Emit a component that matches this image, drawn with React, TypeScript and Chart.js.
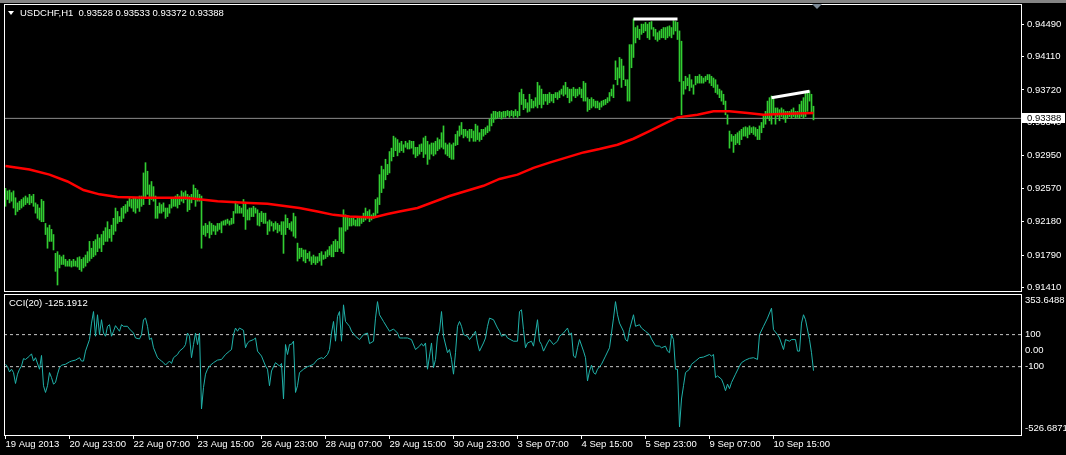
import React, { useEffect, useRef } from 'react';
import { Chart, registerables } from 'chart.js';

Chart.register(...registerables);

// ---------- DATA ----------
const symbolTitle = 'USDCHF,H1';
const lastBarOHLC = [0.93528, 0.93533, 0.93372, 0.93388];
const lastPrice = 0.93388;
const cciTitle = 'CCI(20)';
const cciLast = -125.1912;

// H1 bar highs / lows, in units of 0.0001 (pips)
const barHigh = [
  9257, 9254, 9255, 9252, 9254, 9246, 9240, 9242, 9244, 9246,
  9248, 9246, 9250, 9248, 9250, 9240, 9238, 9234, 9244, 9242,
  9216, 9211, 9214, 9209, 9203, 9181, 9183, 9179, 9177, 9179,
  9174, 9172, 9174, 9172, 9174, 9172, 9176, 9177, 9174, 9176,
  9179, 9183, 9195, 9187, 9195, 9197, 9203, 9199, 9203, 9207,
  9211, 9218, 9209, 9214, 9222, 9234, 9230, 9224, 9234, 9236,
  9238, 9242, 9246, 9244, 9246, 9246, 9244, 9248, 9248, 9275,
  9287, 9277, 9261, 9265, 9259, 9248, 9236, 9240, 9238, 9240,
  9234, 9234, 9238, 9246, 9246, 9248, 9250, 9248, 9254, 9252,
  9254, 9250, 9248, 9250, 9261, 9257, 9255, 9250, 9248, 9213,
  9216, 9214, 9218, 9216, 9214, 9213, 9216, 9216, 9218, 9219,
  9220, 9221, 9219, 9222, 9230, 9242, 9238, 9236, 9234, 9244,
  9240, 9232, 9234, 9234, 9236, 9234, 9232, 9228, 9230, 9228,
  9228, 9218, 9220, 9218, 9216, 9218, 9216, 9214, 9218, 9218,
  9226, 9222, 9216, 9218, 9228, 9224, 9193, 9187, 9187, 9185,
  9185, 9181, 9183, 9177, 9179, 9177, 9177, 9181, 9183, 9179,
  9183, 9185, 9189, 9191, 9195, 9197, 9195, 9211, 9211, 9232,
  9226, 9224, 9222, 9222, 9222, 9220, 9222, 9224, 9224, 9228,
  9234, 9230, 9232, 9226, 9228, 9244, 9246, 9273, 9283, 9279,
  9291, 9285, 9300, 9304, 9318, 9316, 9314, 9310, 9312, 9308,
  9312, 9310, 9313, 9312, 9312, 9305, 9305, 9308, 9309, 9316,
  9318, 9312, 9308, 9310, 9310, 9312, 9316, 9314, 9322, 9330,
  9310, 9308, 9310, 9308, 9310, 9320, 9324, 9330, 9334, 9326,
  9326, 9324, 9326, 9326, 9324, 9332, 9330, 9322, 9326, 9326,
  9328, 9330, 9338, 9344, 9347, 9347, 9346, 9347, 9346, 9347,
  9347, 9348, 9347, 9348, 9347, 9349, 9347, 9369, 9373, 9367,
  9361, 9357, 9367, 9361, 9359, 9363, 9381, 9377, 9373, 9367,
  9367, 9367, 9369, 9367, 9367, 9369, 9369, 9371, 9373, 9377,
  9381, 9375, 9373, 9373, 9375, 9373, 9373, 9375, 9373, 9382,
  9380, 9363, 9361, 9363, 9361, 9359, 9359, 9357, 9359, 9360,
  9361, 9363, 9369, 9373, 9378, 9406, 9398, 9410, 9408, 9400,
  9384, 9384, 9425, 9425, 9455, 9445, 9447, 9443, 9449, 9449,
  9451, 9449, 9451, 9452, 9445, 9443, 9439, 9441, 9443, 9445,
  9445, 9446, 9447, 9445, 9453, 9452, 9451, 9441, 9429, 9382,
  9388, 9386, 9390, 9384, 9378, 9388, 9388, 9390, 9388, 9386,
  9388, 9390, 9390, 9388, 9386, 9384, 9378, 9373, 9371, 9367,
  9359, 9343, 9324, 9320, 9318, 9320, 9322, 9324, 9326, 9328,
  9329, 9328, 9330, 9328, 9329, 9328, 9326, 9330, 9334, 9343,
  9347, 9359, 9363, 9365, 9363, 9351, 9351, 9349, 9351, 9349,
  9347, 9347, 9347, 9349, 9351, 9347, 9347, 9355, 9359, 9363,
  9369, 9371, 9371, 9367, 9353,
];
const barLow = [
  9236, 9244, 9240, 9242, 9234, 9226, 9230, 9232, 9234, 9236,
  9238, 9240, 9238, 9240, 9236, 9228, 9222, 9220, 9218, 9218,
  9203, 9187, 9195, 9195, 9185, 9160, 9144, 9164, 9168, 9168,
  9166, 9166, 9166, 9165, 9166, 9166, 9165, 9162, 9160, 9164,
  9166, 9170, 9172, 9175, 9177, 9179, 9183, 9187, 9183, 9191,
  9195, 9195, 9199, 9195, 9203, 9207, 9216, 9218, 9218, 9222,
  9228, 9230, 9236, 9234, 9230, 9228, 9234, 9230, 9236, 9238,
  9246, 9250, 9238, 9244, 9242, 9222, 9222, 9228, 9228, 9230,
  9222, 9224, 9228, 9234, 9236, 9236, 9234, 9238, 9242, 9240,
  9244, 9230, 9232, 9240, 9244, 9236, 9242, 9242, 9187, 9203,
  9201, 9205, 9199, 9203, 9207, 9203, 9207, 9209, 9205, 9214,
  9214, 9216, 9214, 9215, 9216, 9228, 9228, 9228, 9228, 9224,
  9209, 9220, 9220, 9224, 9224, 9228, 9214, 9213, 9218, 9216,
  9216, 9203, 9207, 9213, 9207, 9209, 9205, 9207, 9203, 9181,
  9203, 9211, 9209, 9207, 9201, 9199, 9172, 9175, 9177, 9172,
  9170, 9175, 9172, 9168, 9170, 9168, 9170, 9172, 9167, 9174,
  9175, 9177, 9179, 9177, 9177, 9183, 9183, 9187, 9183, 9181,
  9207, 9209, 9213, 9213, 9214, 9213, 9213, 9213, 9216, 9218,
  9220, 9222, 9218, 9220, 9222, 9224, 9228, 9238, 9252, 9257,
  9267, 9273, 9275, 9289, 9294, 9301, 9295, 9299, 9301, 9299,
  9305, 9303, 9303, 9304, 9297, 9293, 9295, 9297, 9300, 9293,
  9297, 9285, 9291, 9297, 9295, 9297, 9301, 9303, 9305, 9303,
  9297, 9295, 9293, 9291, 9291, 9307, 9308, 9318, 9320, 9316,
  9318, 9316, 9312, 9316, 9312, 9312, 9314, 9312, 9314, 9318,
  9320, 9322, 9324, 9330, 9334, 9338, 9339, 9340, 9338, 9340,
  9340, 9342, 9340, 9342, 9340, 9342, 9340, 9342, 9355, 9349,
  9351, 9346, 9347, 9351, 9351, 9353, 9351, 9355, 9351, 9355,
  9359, 9355, 9357, 9359, 9357, 9363, 9361, 9363, 9367, 9365,
  9367, 9363, 9357, 9359, 9365, 9363, 9365, 9367, 9363, 9359,
  9359, 9347, 9349, 9351, 9353, 9351, 9351, 9349, 9352, 9354,
  9355, 9357, 9359, 9365, 9363, 9384, 9378, 9386, 9375, 9384,
  9377, 9359, 9359, 9398, 9410, 9427, 9433, 9431, 9437, 9439,
  9441, 9433, 9431, 9443, 9435, 9431, 9429, 9431, 9433, 9433,
  9431, 9433, 9435, 9433, 9437, 9441, 9431, 9382, 9343, 9367,
  9373, 9377, 9371, 9375, 9367, 9378, 9380, 9380, 9380, 9380,
  9382, 9384, 9380, 9377, 9375, 9369, 9367, 9363, 9359, 9355,
  9343, 9332, 9304, 9312, 9299, 9308, 9310, 9308, 9314, 9318,
  9318, 9316, 9320, 9322, 9320, 9318, 9314, 9314, 9322, 9328,
  9332, 9339, 9336, 9332, 9343, 9332, 9341, 9336, 9341, 9338,
  9334, 9339, 9341, 9339, 9341, 9339, 9340, 9339, 9341, 9339,
  9341, 9347, 9359, 9345, 9337,
];

// Moving average (red line): bar index and value in pips
const maIndex = [0, 12, 22, 31, 39, 47, 56, 70, 90, 106, 122, 131, 147, 156, 164, 172, 184, 191, 197, 206, 222, 239, 247, 256, 264, 272, 289, 297, 306, 314, 322, 329, 336, 346, 354, 362, 371, 379, 387, 404];
const maValue = [9283, 9279, 9273, 9265, 9255, 9250, 9247, 9246, 9246, 9242, 9240, 9239, 9234, 9230, 9226, 9224, 9223, 9227, 9230, 9234, 9248, 9260, 9268, 9273, 9281, 9287, 9299, 9303, 9308, 9315, 9324, 9332, 9340, 9343, 9347, 9347, 9345, 9343, 9344, 9345];

// CCI(20): [bar index, value]
const cciPoints = [
  [0, -85], [1, -100], [2, -133], [3, -116], [4, -137], [5, -205], [6, -147], [7, -116], [8, -96], [9, -50],
  [10, -55], [12, -34], [13, -20], [14, -65], [15, -44], [17, -116], [18, -30], [19, -219], [20, -261], [21, -219],
  [22, -137], [23, -168], [24, -209], [25, -199], [26, -147], [27, -106], [28, -91], [30, -85], [32, -70], [33, -65],
  [35, -59], [37, -44], [38, -65], [39, -65], [40, -3], [42, 69], [43, 172], [44, 244], [45, 90], [46, 224],
  [47, 100], [48, 193], [49, 110], [50, 90], [51, 152], [52, 162], [53, 90], [54, 121], [55, 156], [57, 121],
  [58, 162], [59, 152], [61, 152], [62, 135], [64, 110], [65, 79], [67, 73], [68, 100], [69, 193], [70, 203],
  [71, 152], [72, 69], [73, 79], [74, 18], [76, -44], [77, -55], [78, -65], [79, -75], [80, -90], [82, -65],
  [83, -80], [84, -44], [86, -24], [87, -3], [89, 18], [90, 38], [91, 110], [92, 90], [93, -44], [94, 38],
  [95, 110], [96, 38], [97, 110], [98, -364], [99, -230], [100, -147], [101, -116], [102, -96], [104, -75], [106, -59],
  [108, -55], [110, -24], [112, -3], [113, 7], [114, 100], [115, 141], [116, 121], [117, 141], [119, 127], [120, 18],
  [121, 48], [122, 59], [124, 69], [125, 79], [126, -3], [128, -34], [130, -96], [131, -116], [132, -219], [133, -127],
  [135, -75], [137, -96], [138, -80], [139, -302], [140, 38], [141, -24], [142, 38], [143, 40], [144, 59], [145, -261],
  [146, -219], [147, -137], [149, -116], [151, -100], [152, -96], [154, -85], [156, -55], [158, -44], [159, -50], [161, -24],
  [162, 7], [163, 110], [164, 182], [165, 59], [166, 213], [167, 244], [168, 59], [169, 286], [170, 182], [172, 152],
  [173, 121], [175, 90], [177, 69], [179, 100], [181, 110], [182, 44], [184, 59], [185, 203], [186, 306], [187, 224],
  [189, 182], [191, 141], [192, 121], [194, 135], [196, 110], [197, 79], [199, 79], [201, 79], [203, 69], [205, 7],
  [207, 28], [208, 44], [209, 28], [210, 48], [211, -116], [212, -34], [213, 48], [214, -106], [215, -55], [216, 90],
  [217, 121], [218, 244], [219, 90], [221, -13], [222, 7], [223, -55], [224, -147], [225, -13], [226, 152], [227, 182],
  [228, 152], [229, 100], [231, 90], [232, 69], [234, 100], [235, 121], [236, 48], [237, -3], [239, 48], [240, 79],
  [241, 152], [242, 203], [244, 193], [246, 141], [247, 121], [248, 90], [250, 100], [251, 79], [254, 59], [256, 59],
  [257, 244], [258, 255], [259, 131], [260, 18], [261, 48], [263, 59], [264, 28], [265, 110], [266, 193], [267, 59],
  [268, 38], [269, -3], [271, 48], [272, 69], [274, 38], [276, 59], [277, 90], [279, 110], [281, 141], [282, 100],
  [283, 110], [284, -34], [285, -44], [286, 18], [287, 69], [289, -3], [290, -44], [291, -189], [292, -127], [293, -91],
  [294, -137], [295, -147], [296, -116], [298, -85], [300, -34], [302, 18], [303, 110], [304, 203], [305, 306], [306, 224],
  [307, 172], [309, 121], [310, 69], [311, 59], [312, 131], [314, 224], [315, 152], [317, 162], [318, 141], [320, 121],
  [322, 100], [323, 73], [325, 30], [327, 28], [328, 18], [330, 28], [331, -3], [332, -13], [333, 100], [334, 69],
  [335, -116], [336, -116], [337, -477], [338, -302], [339, -219], [340, -137], [342, -116], [343, -85], [345, -65], [347, -44],
  [349, -40], [352, -24], [353, -34], [354, -24], [355, -168], [356, -158], [358, -178], [359, -209], [360, -250], [361, -209],
  [362, -237], [363, -199], [365, -147], [367, -96], [368, -75], [370, -59], [372, -48], [374, -44], [376, -55], [377, 100],
  [379, 152], [381, 203], [383, 265], [384, 131], [386, 100], [387, 79], [389, 7], [390, 69], [392, 59], [393, 69],
  [395, 69], [396, -3], [397, -3], [398, 172], [399, 224], [400, 193], [402, 69], [403, -13], [404, -125.1912],
];

// White trend lines drawn on the price chart: [bar index, price]
const trendLines = [
  [[314, 0.9455], [336, 0.9455]],
  [[383, 0.9363], [402, 0.93705]],
];

const timeTickIndex = [0, 32, 64, 96, 128, 160, 192, 224, 256, 288, 320, 352, 384];
const timeTickLabels = [
  '19 Aug 2013', '20 Aug 23:00', '22 Aug 07:00', '23 Aug 15:00', '26 Aug 23:00', '28 Aug 07:00',
  '29 Aug 15:00', '30 Aug 23:00', '3 Sep 07:00', '4 Sep 15:00', '5 Sep 23:00', '9 Sep 07:00', '10 Sep 15:00',
];
const priceTicks = [0.9449, 0.9411, 0.9372, 0.9334, 0.9295, 0.9257, 0.9218, 0.9179, 0.9141];
const priceMin = 0.9137;
const priceMax = 0.94725;
const cciMax = 353.6488;
const cciMin = -526.6871;
const cciTicks = [cciMax, 100, 0, -100, cciMin];
const cciLevels = [100, -100];
const xMin = -0.75;
const xMax = 507.75;

// ---------- STYLE ----------
const FONT = 'Liberation Sans';
const FS = 9.5;
const BAR_COLOR = '#32cd32';
const CCI_COLOR = '#20b2aa';

const noPad = (s: any) => {
  s.paddingTop = 0;
  s.paddingBottom = 0;
  s.paddingLeft = 0;
  s.paddingRight = 0;
};

const framePlugin = {
  id: 'frame',
  afterDraw(chart: any) {
    const { ctx, chartArea: a } = chart;
    ctx.save();
    ctx.strokeStyle = '#ffffff';
    ctx.lineWidth = 1;
    ctx.strokeRect(Math.round(a.left) + 0.5, Math.round(a.top) + 0.5, Math.round(a.right - a.left), Math.round(a.bottom - a.top));
    ctx.restore();
  },
};

const priceBoxPlugin = {
  id: 'priceBox',
  afterDraw(chart: any) {
    const { ctx, chartArea: a } = chart;
    const y = Math.round(chart.scales.y.getPixelForValue(lastPrice));
    ctx.save();
    ctx.fillStyle = '#ffffff';
    ctx.fillRect(a.right + 1, y - 5, 43, 10);
    ctx.fillStyle = '#000000';
    ctx.font = `${FS}px "${FONT}"`;
    ctx.textBaseline = 'middle';
    ctx.fillText(lastPrice.toFixed(5), a.right + 6, y + 0.5);
    // chart-shift marker at the top
    ctx.fillStyle = '#7d8a97';
    ctx.beginPath();
    ctx.moveTo(812, 4);
    ctx.lineTo(822, 4);
    ctx.lineTo(817, 9);
    ctx.closePath();
    ctx.fill();
    ctx.restore();
  },
};

const cciLabel = (v: number): string | string[] => {
  if (v === cciMax) return ['', v.toFixed(4)];
  if (v === cciMin) return [v.toFixed(4), ''];
  if (v === 0) return '0.00';
  return String(v);
};

export default function App() {
  const priceRef = useRef<HTMLCanvasElement>(null);
  const cciRef = useRef<HTMLCanvasElement>(null);

  useEffect(() => {
    const font = { family: FONT, size: FS };
    const c1 = new Chart(priceRef.current as HTMLCanvasElement, {
      type: 'bar',
      data: {
        datasets: [
          {
            type: 'line',
            data: [{ x: xMin, y: lastPrice }, { x: xMax, y: lastPrice }],
            borderColor: '#8c8c8c',
            borderWidth: 1,
            pointRadius: 0,
            order: 10,
          } as any,
          {
            type: 'bar',
            data: barHigh.map((h, i) => ({ x: i, y: [barLow[i] / 10000, h / 10000] })),
            backgroundColor: BAR_COLOR,
            borderWidth: 0,
            barThickness: 1,
            grouped: false,
            order: 5,
          } as any,
          {
            type: 'line',
            data: maIndex.map((x, k) => ({ x, y: maValue[k] / 10000 })),
            borderColor: '#ff0000',
            borderWidth: 2.5,
            pointRadius: 0,
            tension: 0,
            order: 2,
          } as any,
          ...trendLines.map((t) => ({
            type: 'line',
            data: t.map(([x, y]) => ({ x, y })),
            borderColor: '#ffffff',
            borderWidth: 3,
            pointRadius: 0,
            order: 1,
          })) as any,
        ],
      },
      options: {
        animation: false,
        responsive: false,
        events: [],
        layout: { padding: { left: 4, top: 4, right: 0, bottom: 2 } },
        plugins: { legend: { display: false }, tooltip: { enabled: false } },
        scales: {
          x: { type: 'linear', min: xMin, max: xMax, display: false, offset: false, grid: { offset: false } },
          y: {
            position: 'right',
            min: priceMin,
            max: priceMax,
            afterFit: (s: any) => { s.width = 45; noPad(s); },
            afterBuildTicks: (s: any) => { s.ticks = priceTicks.map((v) => ({ value: v })); },
            ticks: {
              color: '#ffffff',
              font,
              padding: 3,
              autoSkip: false,
              callback: (v: any) => Number(v).toFixed(5),
            },
            grid: { drawOnChartArea: false, drawTicks: true, tickLength: 3, color: '#ffffff' },
            border: { display: true, color: '#ffffff' },
          },
        },
      } as any,
      plugins: [framePlugin, priceBoxPlugin],
    });

    const c2 = new Chart(cciRef.current as HTMLCanvasElement, {
      type: 'line',
      data: {
        datasets: [
          ...cciLevels.map((l) => ({
            data: [{ x: xMin, y: l }, { x: xMax, y: l }],
            borderColor: '#c8c8c8',
            borderWidth: 1,
            borderDash: [3, 3],
            pointRadius: 0,
            order: 2,
          })),
          {
            data: cciPoints.map(([x, y]) => ({ x, y })),
            borderColor: CCI_COLOR,
            borderWidth: 1,
            pointRadius: 0,
            tension: 0,
            order: 1,
          },
        ] as any,
      },
      options: {
        animation: false,
        responsive: false,
        events: [],
        layout: { padding: { left: 4, top: 2, right: 0, bottom: 0 } },
        plugins: { legend: { display: false }, tooltip: { enabled: false } },
        scales: {
          x: {
            type: 'linear',
            min: xMin,
            max: xMax,
            offset: false,
            afterFit: (s: any) => { s.height = 20; noPad(s); },
            afterBuildTicks: (s: any) => { s.ticks = timeTickIndex.map((v) => ({ value: v })); },
            ticks: {
              autoSkip: false,
              maxRotation: 0,
              minRotation: 0,
              align: 'start',
              color: '#ffffff',
              font,
              padding: 0,
              callback: (_v: any, i: number) => timeTickLabels[i],
            },
            grid: { drawOnChartArea: false, drawTicks: true, tickLength: 4, color: '#ffffff' },
            border: { display: true, color: '#ffffff' },
          },
          y: {
            position: 'right',
            min: cciMin,
            max: cciMax,
            afterFit: (s: any) => { s.width = 45; noPad(s); },
            afterBuildTicks: (s: any) => { s.ticks = cciTicks.map((v) => ({ value: v })); },
            ticks: {
              color: '#ffffff',
              font: { family: FONT, size: FS, lineHeight: 1.4 },
              padding: 4,
              autoSkip: false,
              callback: (v: any) => cciLabel(Number(v)),
            },
            grid: { drawOnChartArea: false, drawTicks: false, color: '#ffffff' },
            border: { display: true, color: '#ffffff' },
          },
        },
      } as any,
      plugins: [framePlugin],
    });

    return () => {
      c1.destroy();
      c2.destroy();
    };
  }, []);

  const textStyle: React.CSSProperties = {
    position: 'absolute',
    color: '#ffffff',
    fontFamily: `"${FONT}", sans-serif`,
    fontSize: FS,
    lineHeight: '11px',
    whiteSpace: 'pre',
  };

  return (
    <div style={{ position: 'fixed', left: 0, top: 0, width: 1066, height: 455, background: '#000', overflow: 'hidden' }}>
      <div style={{ position: 'absolute', left: 0, top: 0, width: 1066, height: 3, background: '#848484' }} />
      <canvas ref={priceRef} width={1066} height={293} style={{ position: 'absolute', left: 0, top: 0, width: 1066, height: 293 }} />
      <canvas ref={cciRef} width={1066} height={163} style={{ position: 'absolute', left: 0, top: 292, width: 1066, height: 163 }} />
      <div style={{ position: 'absolute', left: 8, top: 11, width: 0, height: 0, borderLeft: '3.5px solid transparent', borderRight: '3.5px solid transparent', borderTop: '4px solid #fff' }} />
      <div style={{ ...textStyle, left: 20, top: 7 }}>{`${symbolTitle}  ${lastBarOHLC.map((v) => v.toFixed(5)).join(' ')}`}</div>
      <div style={{ ...textStyle, left: 9, top: 297 }}>{`${cciTitle} ${cciLast.toFixed(4)}`}</div>
    </div>
  );
}
